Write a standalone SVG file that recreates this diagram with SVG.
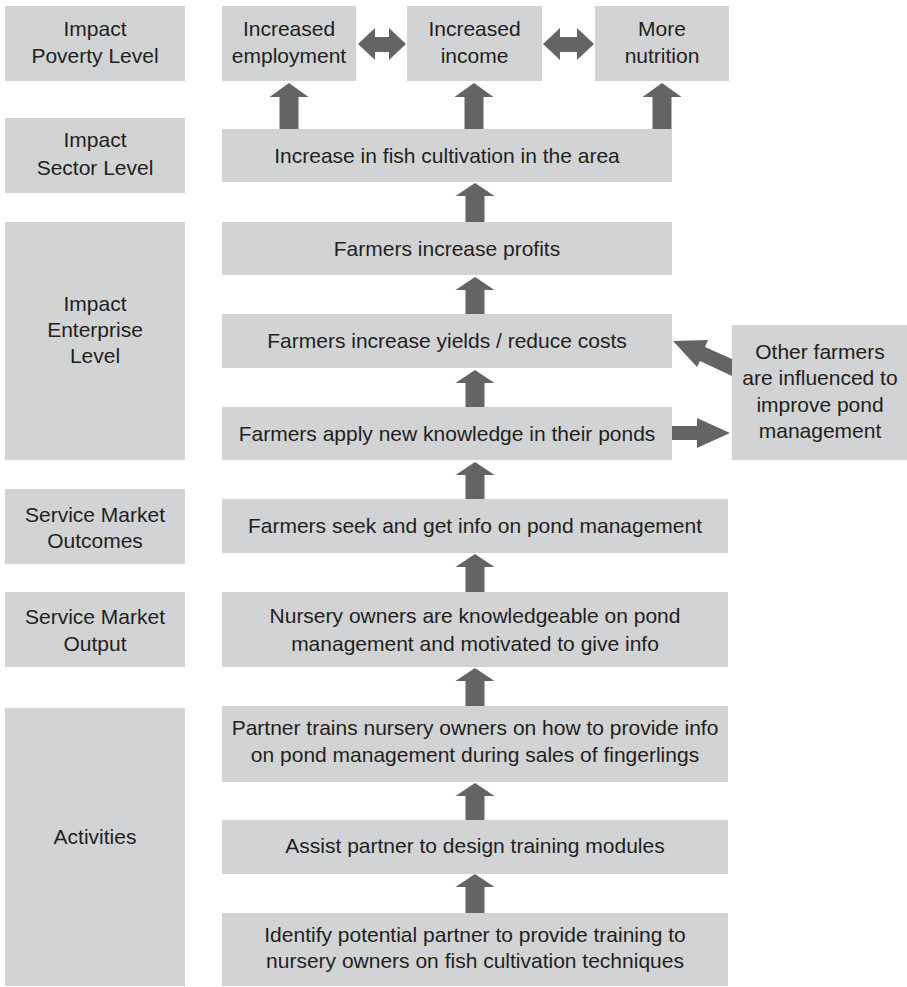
<svg xmlns="http://www.w3.org/2000/svg" width="907" height="987" viewBox="0 0 907 987">
<style>
.box{fill:#d1d3d4}
.arr{fill:#636466}
text{font-family:"Liberation Sans",Arial,sans-serif;font-size:21px;fill:#231f20;text-anchor:middle}
</style>
<rect width="907" height="987" fill="#ffffff"/>
<g id="lbl-poverty"><rect class="box" x="5" y="6" width="180" height="75"/><text x="95" y="36">Impact</text><text x="95" y="63">Poverty Level</text></g>
<g id="lbl-sector"><rect class="box" x="5" y="118" width="180" height="75"/><text x="95" y="147">Impact</text><text x="95" y="175">Sector Level</text></g>
<g id="lbl-enterprise"><rect class="box" x="5" y="222" width="180" height="238"/><text x="95" y="311">Impact</text><text x="95" y="337">Enterprise</text><text x="95" y="363">Level</text></g>
<g id="lbl-outcomes"><rect class="box" x="5" y="489" width="180" height="75"/><text x="95" y="522">Service Market</text><text x="95" y="548">Outcomes</text></g>
<g id="lbl-output"><rect class="box" x="5" y="592" width="180" height="75"/><text x="95" y="624">Service Market</text><text x="95" y="651">Output</text></g>
<g id="lbl-activities"><rect class="box" x="5" y="708" width="180" height="278"/><text x="95" y="844">Activities</text></g>

<g id="employment"><rect class="box" x="222" y="6" width="134" height="75"/><text x="289" y="36">Increased</text><text x="289" y="63">employment</text></g>
<g id="income"><rect class="box" x="407" y="6" width="135" height="75"/><text x="474.5" y="36">Increased</text><text x="474.5" y="63">income</text></g>
<g id="nutrition"><rect class="box" x="595" y="6" width="134" height="75"/><text x="662" y="36">More</text><text x="662" y="63">nutrition</text></g>
<g id="fish"><rect class="box" x="222" y="129" width="450" height="53"/><text x="447" y="163">Increase in fish cultivation in the area</text></g>
<g id="profits"><rect class="box" x="222" y="222" width="450" height="53"/><text x="447" y="256">Farmers increase profits</text></g>
<g id="yields"><rect class="box" x="222" y="314" width="450" height="54"/><text x="447" y="348">Farmers increase yields / reduce costs</text></g>
<g id="apply"><rect class="box" x="222" y="407" width="450" height="53"/><text x="447" y="441">Farmers apply new knowledge in their ponds</text></g>
<g id="other"><rect class="box" x="732" y="325" width="175" height="135"/><text x="820" y="359">Other farmers</text><text x="820" y="385">are influenced to</text><text x="820" y="412">improve pond</text><text x="820" y="438">management</text></g>
<g id="seek"><rect class="box" x="222" y="499" width="506" height="54"/><text x="475" y="533">Farmers seek and get info on pond management</text></g>
<g id="nursery"><rect class="box" x="222" y="592" width="506" height="75"/><text x="475" y="623">Nursery owners are knowledgeable on pond</text><text x="475" y="651">management and motivated to give info</text></g>
<g id="partner"><rect class="box" x="222" y="706" width="506" height="76"/><text x="475" y="735">Partner trains nursery owners on how to provide info</text><text x="475" y="762">on pond management during sales of fingerlings</text></g>
<g id="assist"><rect class="box" x="222" y="820" width="506" height="54"/><text x="475" y="853">Assist partner to design training modules</text></g>
<g id="identify"><rect class="box" x="222" y="913" width="506" height="73"/><text x="475" y="942">Identify potential partner to provide training to</text><text x="475" y="968">nursery owners on fish cultivation techniques</text></g>

<g id="connectors">
<polygon class="arr" points="289,83 308.5,97 298.5,97 298.5,129 279.5,129 279.5,97 269.5,97"/>
<polygon class="arr" points="474,83 493.5,97 483.5,97 483.5,129 464.5,129 464.5,97 454.5,97"/>
<polygon class="arr" points="662,83 681.5,97 671.5,97 671.5,129 652.5,129 652.5,97 642.5,97"/>
<polygon class="arr" points="475,183 494.5,196 484.5,196 484.5,222 465.5,222 465.5,196 455.5,196"/>
<polygon class="arr" points="475,277 494.5,290 484.5,290 484.5,314 465.5,314 465.5,290 455.5,290"/>
<polygon class="arr" points="475,370 494.5,383 484.5,383 484.5,407 465.5,407 465.5,383 455.5,383"/>
<polygon class="arr" points="475,462 494.5,475 484.5,475 484.5,499 465.5,499 465.5,475 455.5,475"/>
<polygon class="arr" points="475,554 494.5,567 484.5,567 484.5,592 465.5,592 465.5,567 455.5,567"/>
<polygon class="arr" points="475,668 494.5,681 484.5,681 484.5,706 465.5,706 465.5,681 455.5,681"/>
<polygon class="arr" points="475,783 494.5,796 484.5,796 484.5,820 465.5,820 465.5,796 455.5,796"/>
<polygon class="arr" points="475,874 494.5,887 484.5,887 484.5,913 465.5,913 465.5,887 455.5,887"/>
<polygon class="arr" points="358,44 375,28 375,37 389,37 389,28 406,44 389,60 389,52 375,52 375,60"/>
<polygon class="arr" points="543,44 560,28 560,37 577,37 577,28 594,44 577,60 577,52 560,52 560,60"/>
<polygon class="arr" points="672,426 697,426 697,418 730,433 697,448 697,440 672,440"/>
<polygon class="arr" points="673,341 708,340 705,347 732,359 732,376 700,361 697,367"/>
</g>
</svg>
